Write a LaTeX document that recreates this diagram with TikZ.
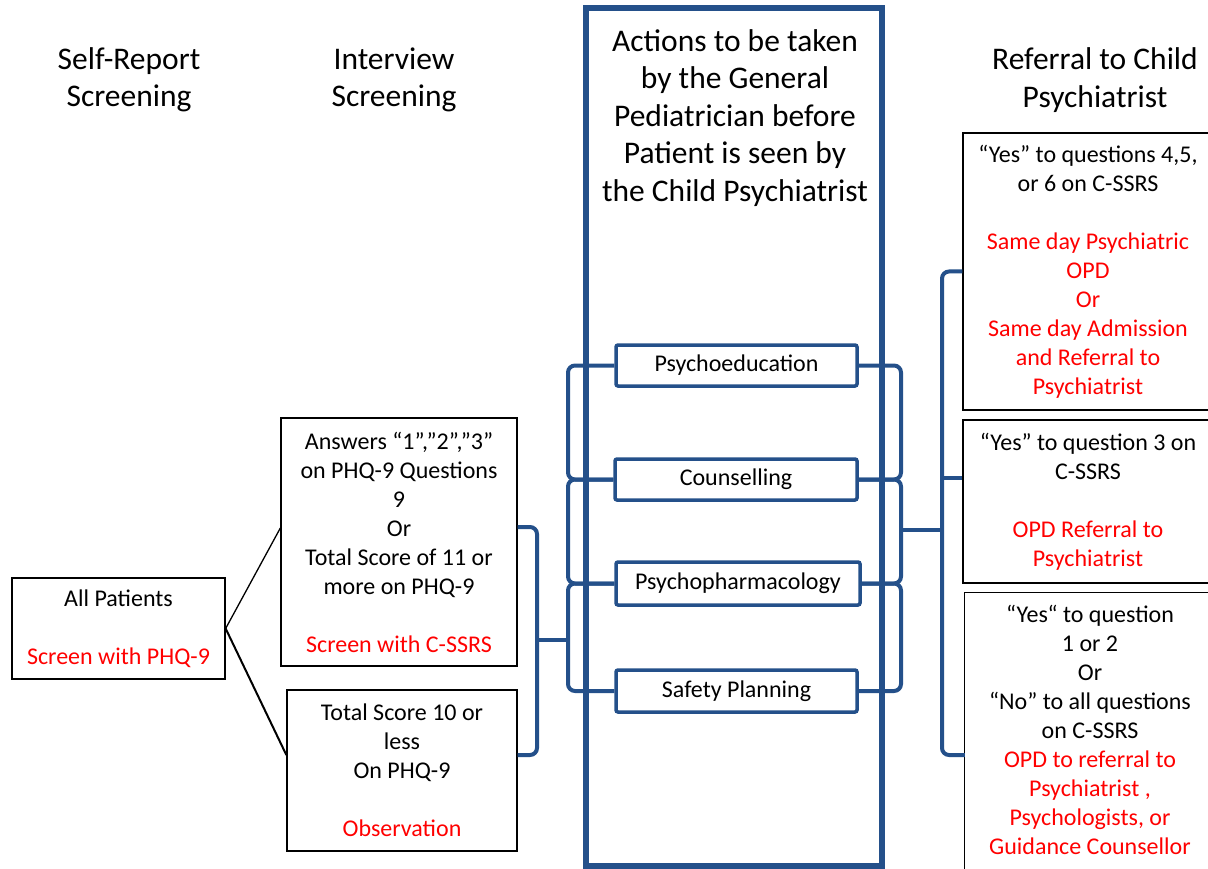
\documentclass[tikz,border=0pt]{standalone}
\usepackage{fontspec}
\setmainfont{Carlito}
\definecolor{nblue}{HTML}{24508A}
\newcommand{\rd}{\color{red}}
\begin{document}
\begin{tikzpicture}[x=1pt,y=-1pt,
  title/.style={font=\fontsize{31.5}{37.5}\selectfont, align=center, inner sep=0pt},
  txt/.style={font=\fontsize{24}{29}\selectfont, align=center, inner sep=0pt},
  bbox/.style={txt, draw=black, line width=1.3pt},
  abox/.style={txt, draw=nblue, line width=3.5pt, rounded corners=2pt},
  br/.style={draw=nblue, line width=4pt, rounded corners=7pt},
  bline/.style={draw=black, line width=1.3pt}]
\fill[white] (0,0) rectangle (1208,869);
\useasboundingbox (0,0) rectangle (1208,869);

% column titles
\node[title] (t1) at (129,80) {Self-Report\\Screening};
\node[title] (t2) at (394,80) {Interview\\Screening};
\node[title] (t3) at (1095,80) {Referral to Child\\Psychiatrist};

% big central box
\node[draw=nblue, line width=5.5pt, minimum width=296pt, minimum height=858pt, inner sep=0pt] (big) at (734,437) {};
\node[title] (bt) at (735,118) {Actions to be taken\\by the General\\Pediatrician before\\Patient is seen by\\the Child Psychiatrist};

% action boxes
\node[abox, minimum width=241pt, minimum height=41pt] (pe) at (736.5,365.5) {Psychoeducation};
\node[abox, minimum width=242pt, minimum height=41pt] (co) at (736,479.5) {Counselling};
\node[abox, minimum width=244pt, minimum height=43pt] (pp) at (738,583.5) {Psychopharmacology};
\node[abox, minimum width=241pt, minimum height=42pt] (sp) at (736.5,691) {Safety Planning};

% left column
\node[bbox, minimum width=213pt, minimum height=101pt] (ap) at (118.5,628.5) {All Patients\\[29pt]\rd Screen with PHQ-9};

% interview column
\node[bbox, minimum width=236pt, minimum height=248pt] (ans) at (399,542) {Answers “1”,”2”,”3”\\on PHQ-9 Questions\\9\\Or\\Total Score of 11 or\\more on PHQ-9\\[29pt]\rd Screen with C-SSRS};
\node[bbox, minimum width=230pt, minimum height=161pt] (tot) at (402,770.5) {Total Score 10 or\\less\\On PHQ-9\\[29pt]\rd Observation};

% referral column
\node[bbox, minimum width=250pt, minimum height=277pt] (r1) at (1088,271.5) {“Yes” to questions 4,5,\\or 6 on C-SSRS\\[29pt]\rd Same day Psychiatric\\\rd OPD\\\rd Or\\\rd Same day Admission\\\rd and Referral to\\\rd Psychiatrist};
\node[bbox, minimum width=250pt, minimum height=163pt] (r2) at (1088,501.5) {“Yes” to question 3 on\\C-SSRS\\[29pt]\rd OPD Referral to\\\rd Psychiatrist};
\node[txt, minimum width=250pt, minimum height=273pt] (r3) at (1090,729.5) {“Yes“ to question\\1 or 2\\Or\\“No” to all questions\\on C-SSRS\\\rd OPD to referral to\\\rd Psychiatrist ,\\\rd Psychologists, or\\\rd Guidance Counsellor};
\draw[bline] ([yshift=-20pt]r3.south west) -- (r3.north west) -- ([xshift=10pt]r3.north east);

% black connectors
\draw[black, line width=1.3pt] (ap.east) -- ([yshift=14pt]ans.west);
\draw[black, line width=2pt] (ap.east) -- ([yshift=15.5pt]tot.west);

% blue brackets
\coordinate (lx) at (568,0);
\coordinate (rx) at (901,0);
\draw[br] (pe.west) -- (pe.west -| lx) |- (co.west);
\draw[br] (co.west) -- (co.west -| lx) |- (pp.west);
\draw[br] (pp.west) -- (pp.west -| lx) |- (sp.west);
\draw[br] (pe.east) -- (pe.east -| rx) |- (co.east);
\draw[br] (co.east) -- (co.east -| rx) |- (pp.east);
\draw[br] (pp.east) -- (pp.east -| rx) |- (sp.east);

\coordinate (ib) at (537,640);
\coordinate (lm) at (568,640);
\draw[br] ([yshift=15pt]ans.east) -| (ib) |- ([yshift=15.5pt]tot.east);
\draw[br] (ib) -- (lm);

\coordinate (rm) at (901,530);
\coordinate (rb) at (942,530);
\coordinate (rb2) at (942,478);
\draw[br] (rm) -- (rb);
\draw[br] (r1.west) -| (rb) |- ([yshift=-25.5pt]r3.west);
\draw[br] (rb2) -- ([yshift=23.5pt]r2.west);
\end{tikzpicture}
\end{document}
